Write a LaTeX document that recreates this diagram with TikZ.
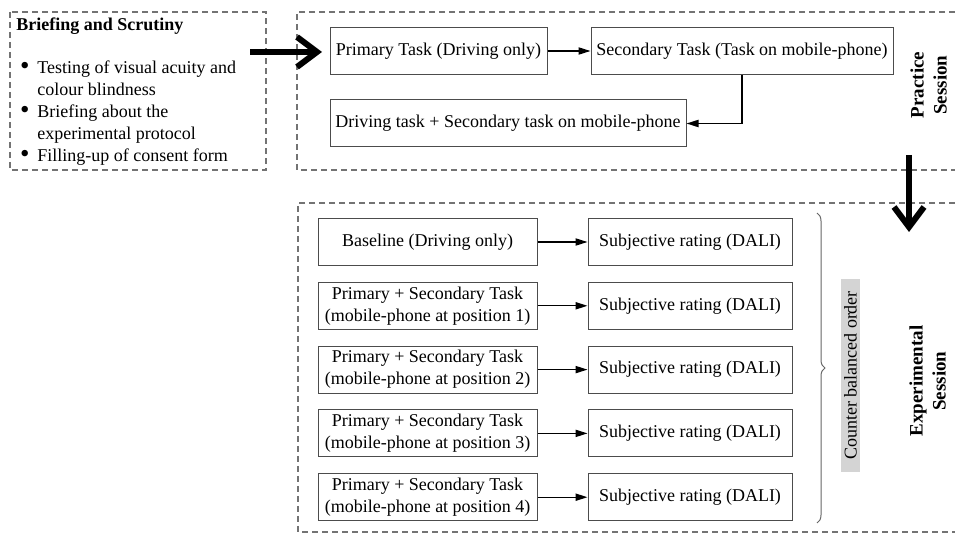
\documentclass[tikz,border=0pt]{standalone}
\usepackage{fontspec}
\setmainfont{Liberation Serif}
\usetikzlibrary{arrows.meta,decorations.pathreplacing}

\newcommand{\bitem}{\makebox[9pt][l]{\hspace*{0.3pt}\raisebox{-0.6pt}{\scalebox{1.5}{\textbullet}}}}
\newcommand{\bindent}{\hspace*{9pt}}

\tikzset{
    taskbox/.style={draw=black!70, line width=0.5pt, fill=white, align=center, inner sep=0pt, minimum height=23.5pt},
    frame/.style={draw=black!55, dash pattern=on 3pt off 2pt, line width=0.55pt},
    link/.style={-{Triangle[length=6pt,width=3.6pt]}, line width=0.7pt},
    bigarrow/.style={-{Straight Barb[length=10pt,width=15pt]}, line width=3pt},
    sessiontext/.style={rotate=90, font=\fontsize{9.5}{11.5}\selectfont\bfseries, align=center, inner sep=0pt}
}

\begin{document}
\begin{tikzpicture}[x=0.5pt, y=-0.5pt, font=\fontsize{9}{11}\selectfont]
    \useasboundingbox (0,0) rectangle (955,535);

        %Frames
        \draw[frame] (10,12) rectangle (266,170);
        \draw[frame] (955,12) -- (297,12) -- (297,170) -- (955,170);
        \draw[frame] (955,203) -- (298,203) -- (298,532) -- (955,532);

        %Briefing
        \node[anchor=west, font=\fontsize{9}{11}\selectfont\bfseries, inner sep=0pt] (brief) at (16,26) {Briefing and Scrutiny};
        \node[anchor=north west, align=left, inner sep=0pt] (brieflist) at (19,60)
            {\bitem Testing of visual acuity and\\
             \bindent colour blindness\\
             \bitem Briefing about the\\
             \bindent experimental protocol\\
             \bitem Filling-up of consent form};

        %Practice session
        \node[taskbox, minimum width=108.5pt] (prim) at (438.5,51) {Primary Task (Driving only)};
        \node[taskbox, minimum width=151pt] (sec) at (742,51) {Secondary Task (Task on mobile-phone)};
        \node[taskbox, minimum width=178pt] (drv) at (508,123.5) {Driving task + Secondary task on mobile-phone};
        \draw[link] (prim) -- (sec);
        \draw[link] (sec.south) |- (drv.east);
        \node[sessiontext] (prac) at (928.5,85) {Practice\\Session};

        %Experimental session
        \node[taskbox, minimum width=109.5pt] (base) at (427.5,242) {Baseline (Driving only)};
        \node[taskbox, minimum width=102pt] (rate0) at (690,242) {Subjective rating (DALI)};
        \draw[link] (base) -- (rate0);
        \foreach \i in {1,...,4} {
            \node[taskbox, minimum width=109.5pt] (pos\i) at (427.5,242+63.8*\i)
                {Primary + Secondary Task\\(mobile-phone at position \i)};
            \node[taskbox, minimum width=102pt] (rate\i) at (690,242+63.8*\i) {Subjective rating (DALI)};
            \draw[link] (pos\i) -- (rate\i);
        }
        \draw[black!60, line width=0.5pt, decorate, decoration={brace, amplitude=4pt}] (817,213) -- (817,523);
        \node[rotate=90, fill=black!17, inner xsep=6pt, inner ysep=1.5pt] (order) at (850.5,375.5) {Counter balanced order};
        \node[sessiontext] (expt) at (927.5,381) {Experimental\\Session};

        %Big arrows
        \coordinate (inA) at (250,52);
        \coordinate (inB) at (322,52);
        \draw[bigarrow] (inA) -- (inB);
        \coordinate (downA) at (909,155);
        \coordinate (downB) at (909,232);
        \draw[bigarrow] (downA) -- (downB);

    \end{tikzpicture}
\end{document}
